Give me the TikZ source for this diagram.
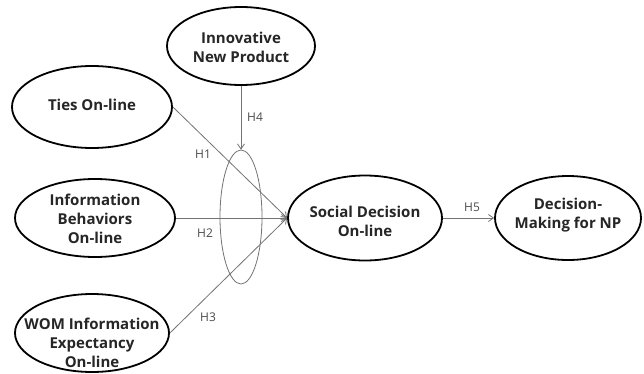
\documentclass[tikz,border=0pt]{standalone}
\usepackage{fontspec}
\setmainfont{Open Sans}
\usetikzlibrary{arrows.meta,shapes.geometric}
\tikzset{
  ell/.style={draw=black, line width=1.8pt, ellipse, inner sep=0pt},
  txt/.style={font=\bfseries\fontsize{15}{19}\selectfont, align=center, text=black!85, inner sep=0pt},
  conn/.style={draw=black!55, line width=0.8pt, -{Straight Barb[length=5pt,width=7pt]}},
  hlab/.style={font=\fontsize{12}{14}\selectfont, text=black!70, inner sep=0pt},
}
\begin{document}
\begin{tikzpicture}[x=1pt,y=1pt]
\useasboundingbox (0,0) rectangle (644,373);
\fill[white] (0,0) rectangle (644,373);
\begin{scope}
\clip (0,0) rectangle (644,373);
\node[ell, minimum width=148pt, minimum height=78pt] (inp) at (241,327) {};
\node[ell, minimum width=160pt, minimum height=82pt] (ties) at (92,266) {};
\node[ell, minimum width=160pt, minimum height=78pt] (info) at (95,155) {};
\node[ell, minimum width=154pt, minimum height=78pt] (wom) at (92,40) {};
\node[ell, minimum width=154pt, minimum height=85pt] (sd) at (365,155) {};
\node[ell, minimum width=146pt, minimum height=84pt] (dm) at (568,155) {};
\node[draw=black!55, line width=0.8pt, ellipse, inner sep=0pt, minimum width=42pt, minimum height=134pt] (mod) at (241,156) {};
\end{scope}
\node[txt] (inp-t) at (241,326) {Innovative\\New Product};
\node[txt] (ties-t) at (92,268) {Ties On-line};
\node[txt] (info-t) at (95,154) {Information\\Behaviors\\On-line};
\node[txt] (wom-t) at (92,30) {WOM Information\\Expectancy\\On-line};
\node[txt] (sd-t) at (365,152) {Social Decision\\On-line};
\node[txt] (dm-t) at (568,158) {Decision-\\Making for NP};
\draw[conn] (ties.east) -- (sd.west);
\draw[conn] (info.east) -- (sd.west);
\draw[conn] (wom.east) -- (sd.west);
\draw[conn] (inp.south) -- (mod.north);
\draw[conn] (sd.east) -- (dm.west);
\node[hlab] (h1) at (203,219) {H1};
\node[hlab] (h2) at (205,140) {H2};
\node[hlab] (h3) at (208,56) {H3};
\node[hlab] (h4) at (255,256) {H4};
\node[hlab] (h5) at (472,166) {H5};
\end{tikzpicture}
\end{document}
